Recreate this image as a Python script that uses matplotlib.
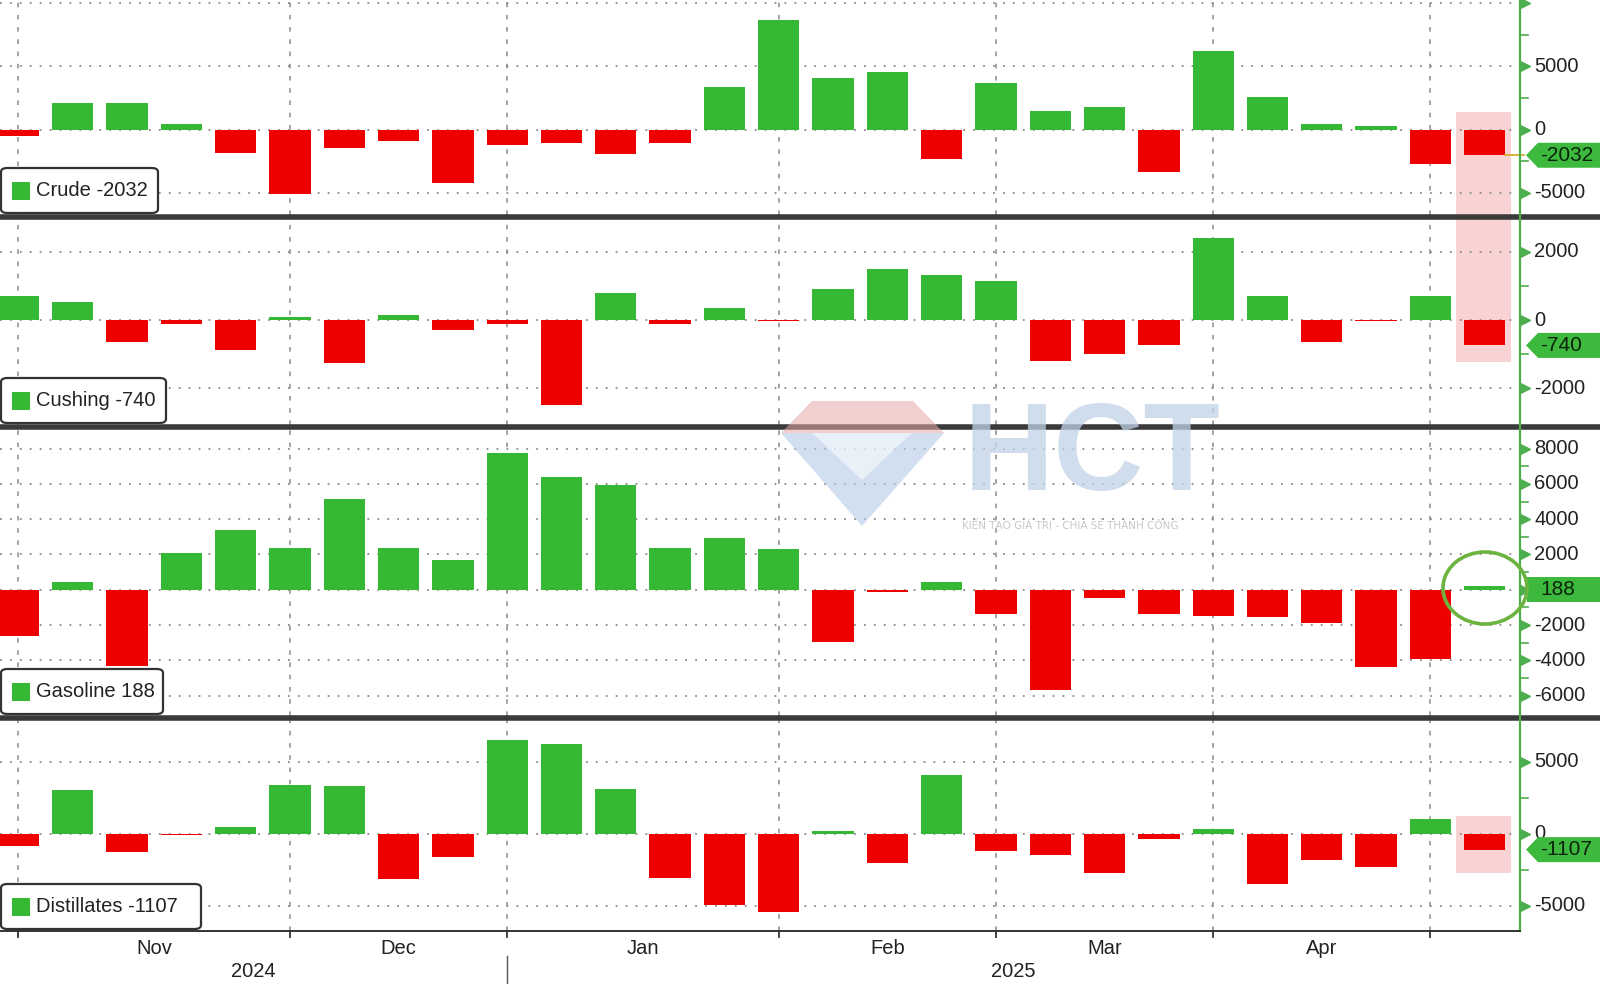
import matplotlib.pyplot as plt
import matplotlib.patches as mpatches
import matplotlib.lines as mlines
import numpy as np
import pandas as pd

plt.rcParams['font.family'] = ['Liberation Sans Narrow', 'Liberation Sans', 'DejaVu Sans']

# weekly inventory changes (thousand barrels), weeks from early Nov 2024
weeks = pd.date_range('2024-11-01', periods=28, freq='7D')

crude = [-520, 2090, 2090, 470, -1820, -5080, -1480, -885, -4220, -1250, -1040, -1950, -1040, 3390,
         8650, 4090, 4560, -2290, 3650, 1430, 1770, -3330, 6200, 2580, 470, 260, -2730, -2032]
cushing = [706, 520, -637, -118, -863, 98, -1255, 147, -294, -118, -2480, 784, -118, 343,
           -30, 920, 1490, 1314, 1137, -1206, -990, -735, 2400, 706, -637, -40, 706, -740]
gasoline = [-2640, 453, -4340, 2113, 3396, 2396, 5170, 2396, 1698, 7774, 6415, 5925, 2396, 2962,
            2302, -2980, -113, 453, -1396, -5660, -453, -1377, -1472, -1566, -1887, -4397, -3925, 188]
distillates = [-880, 3010, -1296, -116, 440, 3403, 3334, -3148, -1620, 6528, 6227, 3125, -3079, -4931,
               -5440, 208, -2037, 4051, -1227, -1505, -2732, -370, 324, -3496, -1852, -2338, 1042, -1107]

names = ['Crude', 'Cushing', 'Gasoline', 'Distillates']
series = [crude, cushing, gasoline, distillates]
year_labels = ['2024', '2025']

GREEN = '#35b935'
RED = '#ee0000'
AXGREEN = '#4cae4c'
GRID = '#8a8a8a'
FS = 14.5

W, H = 1600, 984
AXR = 1520  # right axis in pixels

# panel layout: top px, bottom px, ylim, major ticks, minor ticks, legend box width
layout = [
    (0, 215, (-6750, 10230), [10000, 5000, 0, -5000], [7500, 2500, -2500], 158),
    (219, 425, (-3070, 2960), [2000, 0, -2000], [1000, -1000], 166),
    (429, 716, (-7150, 9110), [8000, 6000, 4000, 2000, 0, -2000, -4000, -6000],
     [7000, 5000, 3000, 1000, -1000, -3000, -5000], 163),
    (720, 931, (-6760, 7900), [5000, 0, -5000], [2500, -2500], 201),
]


def ff(x, y):
    return x / W, 1 - y / H


fig = plt.figure(figsize=(16, 9.84), dpi=100)
fig.patch.set_facecolor('white')

x = np.arange(len(weeks))
months = [d.month for d in weeks]
starts = [i for i in range(len(weeks)) if i == 0 or months[i] != months[i - 1]]
year_start = [i for i in range(1, len(weeks)) if weeks[i].year != weeks[i - 1].year][0]
XL = (-0.34, 27.65)

axes = []
for name, vals, (top, bot, ylim, majors, minors, boxw) in zip(names, series, layout):
    ax = fig.add_axes([0, 1 - bot / H, AXR / W, (bot - top) / H])
    ax.set_facecolor('none')
    cols = [GREEN if v >= 0 else RED for v in vals]
    ax.bar(x, vals, width=0.76, color=cols, zorder=3)
    ax.set_xlim(*XL)
    ax.set_ylim(*ylim)
    for s in ax.spines.values():
        s.set_visible(False)
    ax.set_xticks([])
    ax.set_yticks([])
    for t in majors:
        ax.axhline(t, color=GRID, lw=1.3, ls=(0, (1, 4.5)), zorder=1)
    for b in starts:
        ax.axvline(b, color=GRID, lw=1.1, ls=(0, (3, 5)), zorder=1)
    tr = ax.get_yaxis_transform()
    ax.plot([1.0035] * len(majors), majors, marker='>', ms=7.5, color=AXGREEN, ls='none',
            transform=tr, clip_on=False, zorder=4)
    for m in minors:
        ax.plot([1.0, 1.005], [m, m], color=AXGREEN, lw=1.2, transform=tr, clip_on=False)
    for t in majors:
        # 10000 sits off the top; gasoline 0 is hidden under the value tag
        if t == 10000 or (name == 'Gasoline' and t == 0):
            continue
        ax.text(1.0095, t, str(t), transform=tr, va='center', ha='left', fontsize=FS,
                color='#222222')
    axes.append((ax, name, vals, top, bot, boxw))

# pink highlight boxes behind the latest bar
for (x0, y0, x1, y1) in [(1456, 112, 1511, 362), (1456, 816, 1511, 873)]:
    fx0, fy1 = ff(x0, y1)
    fx1, fy0 = ff(x1, y0)
    fig.add_artist(mpatches.Rectangle((fx0, fy1), fx1 - fx0, fy0 - fy1, transform=fig.transFigure,
                                      facecolor='#f9d3d3', edgecolor='none', zorder=-1))

for i, (ax, name, vals, top, bot, boxw) in enumerate(axes):
    last = vals[-1]
    # last-value tag on right axis
    ypx = H - ax.transData.transform((0, last))[1]
    if name == 'Gasoline':
        ypx = H - ax.transData.transform((0, 0))[1]
    hh = 12.5
    if name == 'Gasoline':
        pts = [(1527, ypx - hh), (1600, ypx - hh), (1600, ypx + hh), (1527, ypx + hh)]
    else:
        pts = [(1526, ypx), (1538, ypx - hh), (1600, ypx - hh), (1600, ypx + hh), (1538, ypx + hh)]
    fig.add_artist(mpatches.Polygon([ff(*p) for p in pts], closed=True, transform=fig.transFigure,
                                    facecolor='#3dba3d', edgecolor='none', zorder=6))
    fig.text(1540 / W, 1 - ypx / H, str(last), ha='left', va='center', fontsize=FS + 0.5,
             color='#0b220b', zorder=7)

    # legend box
    by0, by1 = bot - 47, bot - 2
    bx0, by_bot = ff(1, by1)
    fig.add_artist(mpatches.FancyBboxPatch((bx0, by_bot), (boxw - 1) / W, (by1 - by0) / H,
                                           boxstyle='round,pad=0,rounding_size=0.004',
                                           transform=fig.transFigure, facecolor='white',
                                           edgecolor='#333333', lw=1.6, zorder=6))
    cy = (by0 + by1) / 2
    sx, sy = ff(12, cy + 9)
    fig.add_artist(mpatches.Rectangle((sx, sy), 18 / W, 18 / H, transform=fig.transFigure,
                                      facecolor=GREEN, edgecolor='none', zorder=7))
    fig.text(36 / W, 1 - cy / H, f'{name} {last}', ha='left', va='center', fontsize=FS,
             color='#222222', zorder=7)

# crude last-value guide line
axc = axes[0][0]
axc.plot([27.38, 27.72], [crude[-1]] * 2, color='#d9a520', lw=1.2, clip_on=False, zorder=4)

# separators between panels
for y in [217, 427, 718]:
    fig.add_artist(mlines.Line2D([0, 1], [1 - y / H] * 2, lw=4, color='#3a3a3a', zorder=5))

# right green axis line
fig.add_artist(mlines.Line2D([AXR / W] * 2, [1 - 931 / H, 1], lw=1.6, color=AXGREEN, zorder=5))

# bottom axis, month and year labels
axd = axes[-1][0]
fig.add_artist(mlines.Line2D([0, AXR / W], [1 - 931 / H] * 2, lw=1.4, color='#333333', zorder=5))
xt = axd.get_xaxis_transform()
for b in starts:
    axd.plot([b, b], [0, -0.03], color='#333333', lw=1.3, transform=xt, clip_on=False)
mnames = [weeks[b].strftime('%b') for b in starts]
for k in range(len(starts) - 1):
    axd.text((starts[k] + starts[k + 1]) / 2, -0.082, mnames[k], transform=xt, ha='center',
             va='center', fontsize=FS, color='#222222')
axd.text((XL[0] + year_start) / 2, -0.19, year_labels[0], transform=xt, ha='center', va='center',
         fontsize=FS, color='#222222')
axd.text((year_start + XL[1]) / 2, -0.19, year_labels[1], transform=xt, ha='center', va='center',
         fontsize=FS, color='#222222')
axd.plot([year_start, year_start], [-0.12, -0.26], color='#555555', lw=1, transform=xt,
         clip_on=False)

# green circle around the latest gasoline value
cx, cyy = ff(1485, 588)
fig.add_artist(mpatches.Ellipse((cx, cyy), 84 / W, 72 / H, transform=fig.transFigure,
                                facecolor='none', edgecolor='#6db33f', lw=2.6, zorder=8))

# faint watermark
top_band = [(781, 433), (812, 401), (913, 401), (944, 433)]
low_tri = [(781, 433), (944, 433), (862, 526)]
mid_tri = [(812, 433), (912, 433), (862, 480)]
fig.add_artist(mpatches.Polygon([ff(*p) for p in top_band], transform=fig.transFigure,
                                facecolor='#e7a9a9', edgecolor='none', alpha=0.55, zorder=9))
fig.add_artist(mpatches.Polygon([ff(*p) for p in low_tri], transform=fig.transFigure,
                                facecolor='#b5cbe6', edgecolor='none', alpha=0.6, zorder=9))
fig.add_artist(mpatches.Polygon([ff(*p) for p in mid_tri], transform=fig.transFigure,
                                facecolor='white', edgecolor='none', alpha=0.55, zorder=9))
fig.text(1092 / W, 1 - 490 / H, 'HCT', ha='center', va='baseline', fontsize=90, fontweight='bold',
         family=['Liberation Sans', 'DejaVu Sans'], color='#bfd2e8', alpha=0.75, zorder=9)
fig.text(1070 / W, 1 - 524 / H, 'KIẾN TẠO GIÁ TRỊ - CHIA SẺ THÀNH CÔNG', ha='center', va='center',
         fontsize=7.5, family=['DejaVu Sans'], color='#c8c8c8', zorder=9)

fig.savefig('out.png', dpi=100)
